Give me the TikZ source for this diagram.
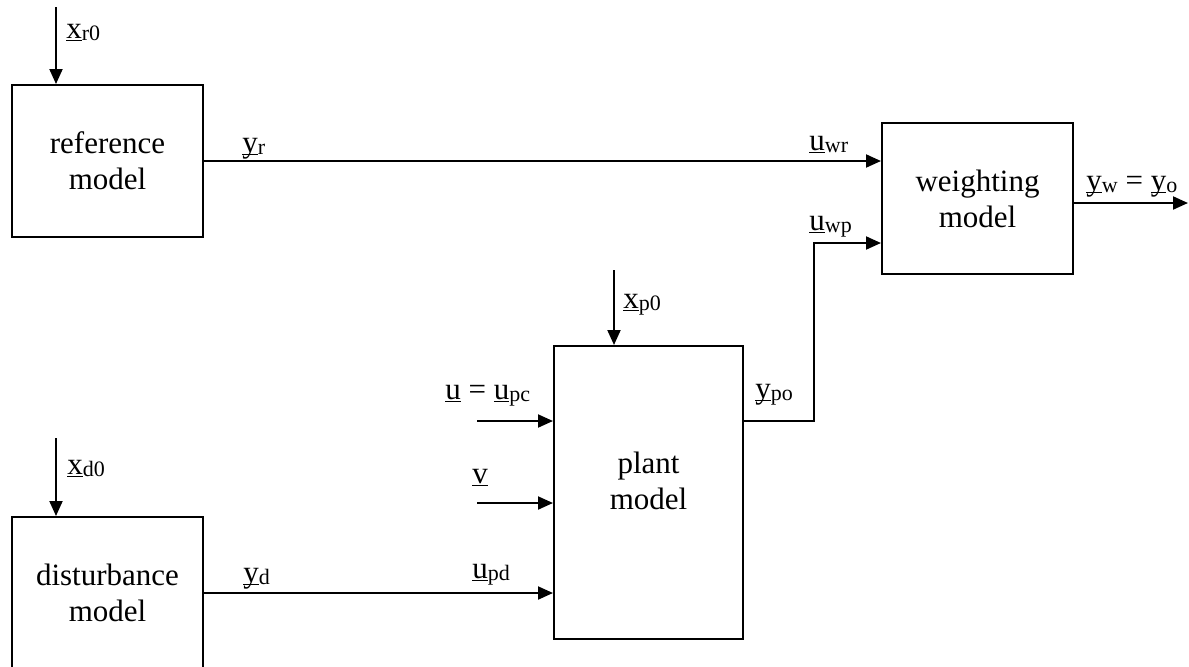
\documentclass[tikz,border=0pt]{standalone}
\usepackage{fontspec}
\setmainfont{Liberation Serif}
\usetikzlibrary{arrows.meta,positioning}
\newcommand{\ubar}[1]{\setbox0=\hbox{#1}\rlap{\rule[-1.7pt]{\wd0}{0.7pt}}\box0\relax}
\newcommand{\sig}[2]{\ubar{#1}\raisebox{-1pt}{\fontsize{11pt}{12pt}\selectfont #2}}

\begin{document}
\begin{tikzpicture}[
  x=0.5pt, y=-0.5pt,
  block/.style={draw, line width=1pt, align=center, inner sep=0pt,
                font=\fontsize{15.5pt}{18pt}\selectfont},
  lbl/.style={inner sep=0pt, anchor=base west, font=\fontsize{15.5pt}{18pt}\selectfont},
  arr/.style={-{Triangle[length=7.5pt,width=6.5pt]}, line width=1pt}
]
\useasboundingbox (0,0) rectangle (1189,666);

\node[block, minimum width=95.5pt, minimum height=76pt]   (refm)  at (107.5,161) {reference\\model};
\node[block, minimum width=95.5pt, minimum height=75.5pt] (wgt)   at (977.5,198.5) {weighting\\model};
\node[block, minimum width=94.5pt, minimum height=146.5pt] (plant) at (648.5,492.5)
  {\raisebox{4pt}[\height][\depth]{\begin{tabular}{@{}c@{}}plant\\model\end{tabular}}};
\node[block, minimum width=95.5pt, minimum height=76pt]   (dist)  at (107.5,593) {disturbance\\model};

% free ends of the external inputs
\coordinate (xr0)    at (56,7);
\coordinate (xd0)    at (56,438);
\coordinate (xp0)    at (614,270);
\coordinate (ustart) at (477,421);
\coordinate (vstart) at (477,503);
\coordinate (yout)   at (1188,203);

\draw[arr] (xr0) -- (xr0 |- refm.north);
\draw[arr] (xd0) -- (xd0 |- dist.north);
\draw[arr] (xp0) -- (xp0 |- plant.north);
\draw[arr] (refm.east) -- (refm.east -| wgt.west);
\draw[arr] (dist.east) -- (dist.east -| plant.west);
\draw[arr] (ustart) -- (ustart -| plant.west);
\draw[arr] (vstart) -- (vstart -| plant.west);
\draw[arr] (plant.east |- ustart) -- ++(70,0) |- ([yshift=16pt]wgt.south west);
\draw[arr] (wgt.east |- yout) -- (yout);

\node[lbl] (lxr0) at (66,38)   {\sig{x}{r0}};
\node[lbl] (lyr)  at (242,152) {\sig{y}{r}};
\node[lbl] (luwr) at (809,150) {\sig{u}{wr}};
\node[lbl] (luwp) at (809,230) {\sig{u}{wp}};
\node[lbl] (lyw)  at (1086,190) {\sig{y}{w} = \sig{y}{o}};
\node[lbl] (lxp0) at (623,308) {\sig{x}{p0}};
\node[lbl] (lu)   at (445,399) {\ubar{u} = \sig{u}{pc}};
\node[lbl] (lypo) at (755,398) {\sig{y}{po}};
\node[lbl] (lv)   at (472,483) {\ubar{v}};
\node[lbl] (lupd) at (472,578) {\sig{u}{pd}};
\node[lbl] (lxd0) at (67,474)  {\sig{x}{d0}};
\node[lbl] (lyd)  at (243,582) {\sig{y}{d}};
\end{tikzpicture}
\end{document}
